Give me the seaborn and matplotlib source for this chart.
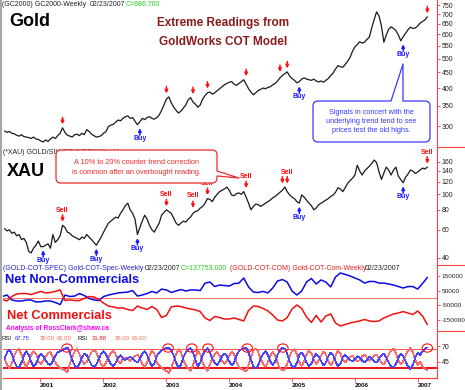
import pandas as pd
import matplotlib
matplotlib.use('Agg')
import matplotlib.pyplot as plt
import matplotlib.dates as mdates
import seaborn as sns
from matplotlib.patches import FancyBboxPatch, Ellipse, Polygon
from matplotlib.lines import Line2D
from matplotlib.ticker import FixedLocator, FixedFormatter, NullLocator

last_date = '2007-02-23'

gold = [289, 286, 288, 284, 283, 280, 278, 281, 277, 276,
        275, 273, 276, 272, 271, 268, 266, 270, 267, 272,
        276, 273, 279, 284, 296, 286, 280, 278, 276, 281,
        282, 279, 284, 281, 292, 288, 282, 279, 276, 277,
        279, 284, 288, 299, 302, 304, 309, 314, 312, 318,
        322, 324, 318, 320, 311, 303, 310, 318, 315, 320,
        322, 318, 316, 320, 326, 338, 352, 368, 374, 358,
        346, 338, 331, 336, 344, 352, 366, 372, 360, 354,
        346, 352, 368, 378, 386, 388, 382, 386, 392, 398,
        404, 410, 414, 418, 420, 412, 408, 414, 420, 426,
        412, 398, 388, 380, 386, 393, 396, 400, 398, 402,
        404, 410, 414, 422, 432, 440, 446, 452, 438, 430,
        424, 416, 420, 428, 432, 428, 426, 424, 428, 422,
        419, 422, 418, 424, 430, 440, 448, 462, 474, 470,
        468, 478, 490, 504, 528, 546, 556, 568, 562, 566,
        578, 588, 632, 672, 712, 690, 640, 566, 598, 624,
        636, 628, 618, 598, 572, 590, 606, 622, 634, 628,
        630, 640, 654, 662, 670, 686]

xau = [61, 59, 60, 57, 58, 55, 56, 52, 53, 50,
       44, 43, 46, 48, 51, 47, 47, 48, 49, 46,
       56, 50, 52, 55, 64, 62, 58, 57, 55, 54,
       53, 52, 54, 53, 56, 54, 52, 50, 48, 51,
       54, 58, 62, 66, 68, 70, 72, 71, 76, 80,
       85, 88, 80, 76, 70, 56, 62, 68, 74, 70,
       64, 60, 58, 62, 66, 74, 77, 80, 78, 76,
       71, 66, 64, 66, 68, 67, 70, 72, 76, 78,
       79, 82, 84, 88, 94, 93, 90, 96, 100, 104,
       106, 108, 111, 106, 99, 98, 101, 102, 100, 104,
       96, 88, 80, 84, 87, 86, 84, 86, 88, 90,
       92, 95, 97, 100, 103, 106, 111, 104, 99, 96,
       94, 90, 88, 99, 96, 92, 88, 85, 80, 82,
       86, 88, 90, 92, 94, 97, 99, 103, 110, 108,
       104, 110, 117, 122, 126, 132, 152, 140, 132, 140,
       145, 150, 156, 164, 158, 138, 124, 136, 148, 142,
       132, 142, 148, 130, 124, 118, 128, 134, 142, 140,
       135, 138, 142, 146, 144, 148]

non_comm = [10000, 20000, -13000, -20000, -20000, -14000, -13000, -27000, -25000, -20000,
            -20000, -30000, -44000, 20000, 10000, 13000, 30000, 17000, -3000, -13000,
            -17000, 10000, 20000, 27000, 34000, 37000, 40000, 50000, 13000, 20000,
            30000, 44000, 34000, 60000, 54000, 37000, 47000, 57000, 47000, 54000,
            54000, 50000, 100000, 107000, 77000, 87000, 84000, 80000, 97000, 100000,
            134000, 74000, 40000, 37000, 44000, 34000, 67000, 114000, 124000, 107000,
            47000, 20000, 47000, 107000, 131000, 94000, 121000, 107000, 74000, 141000,
            168000, 158000, 148000, 134000, 121000, 100000, 111000, 111000, 100000, 100000,
            94000, 87000, 77000, 67000, 77000, 77000, 60000, 97000, 137753]

comm = [-10000, -20000, 10000, 27000, 30000, 30000, 23000, 34000, 44000, 34000,
        37000, 44000, 54000, -17000, -13000, -17000, -17000, -3000, 10000, 7000,
        -10000, -34000, -54000, -60000, -67000, -67000, -77000, -84000, -54000, -67000,
        -77000, -57000, -77000, -131000, -117000, -60000, -54000, -57000, -67000, -74000,
        -80000, -91000, -134000, -151000, -124000, -131000, -141000, -141000, -134000, -144000,
        -154000, -84000, -54000, -57000, -70000, -87000, -114000, -148000, -154000, -131000,
        -74000, -47000, -70000, -128000, -164000, -117000, -161000, -121000, -107000, -168000,
        -188000, -178000, -168000, -161000, -154000, -144000, -154000, -158000, -154000, -134000,
        -121000, -107000, -101000, -91000, -101000, -111000, -87000, -121000, -178000]

rsi_non_comm = [50, 60, 64, 58, 46, 38, 36, 44, 55, 62, 56, 45, 38, 42,
                52, 58, 54, 48, 42, 40, 47, 55, 60, 62, 64, 66, 68, 60,
                48, 40, 36, 42, 52, 58, 56, 48, 40, 37, 41, 50, 58, 62,
                57, 49, 42, 38, 44, 52, 56, 50, 48, 51, 53, 50, 47, 44,
                50, 58, 62, 56, 46, 38, 42, 54, 60, 63, 66, 67, 68, 64,
                55, 44, 36, 40, 52, 60, 64, 67, 60, 48, 38, 44, 56, 63,
                67, 60, 50, 44, 40, 46, 54, 58, 54, 46, 40, 44, 55, 62,
                65, 67, 68, 60, 48, 38, 35, 40, 50, 58, 62, 56, 46, 40,
                46, 56, 64, 67, 66, 58, 46, 38, 36, 44, 56, 60, 54, 44,
                38, 42, 52, 58, 54, 46, 40, 44, 54, 60, 56, 46, 38, 42,
                52, 56, 52, 48, 46, 50, 54, 52, 47, 44, 48, 53, 50, 46,
                44, 50, 56, 58, 52, 44, 38, 36, 42, 52, 58, 54, 46, 38,
                34, 40, 52, 60, 56, 62, 66, 68]

rsi_comm = [50, 41, 35, 43, 55, 63, 65, 57, 45, 37, 45, 56, 62, 58,
            47, 41, 47, 53, 59, 61, 52, 44, 39, 36, 34, 32, 29, 41,
            53, 61, 65, 58, 47, 42, 45, 53, 61, 64, 60, 50, 41, 37,
            44, 52, 59, 63, 57, 47, 43, 50, 52, 49, 47, 51, 54, 57,
            51, 41, 37, 44, 55, 63, 59, 45, 39, 36, 33, 31, 28, 36,
            46, 57, 65, 61, 48, 40, 35, 31, 40, 52, 63, 57, 44, 36,
            31, 41, 51, 57, 61, 55, 46, 42, 47, 55, 61, 57, 45, 37,
            34, 32, 30, 40, 53, 63, 66, 61, 50, 42, 37, 45, 55, 61,
            55, 44, 35, 32, 33, 42, 54, 63, 65, 57, 44, 39, 46, 57,
            63, 59, 48, 42, 47, 55, 61, 57, 46, 40, 45, 55, 63, 59,
            48, 44, 49, 53, 55, 50, 46, 48, 54, 57, 52, 47, 51, 55,
            57, 50, 44, 41, 48, 57, 63, 66, 59, 48, 41, 46, 55, 63,
            67, 61, 48, 40, 45, 38, 34, 32]

gold_sell = ['2001-05-14', '2003-01-07', '2003-05-30', '2003-09-01', '2004-04-09',
             '2004-10-28', '2004-11-26', '2007-02-23']
gold_buy = ['2002-07-27', '2005-02-10', '2006-10-05']
xau_sell = ['2001-05-14', '2003-01-07', '2003-06-06', '2003-09-01', '2004-04-09',
            '2004-11-08', '2004-12-08', '2007-02-23']
xau_sell_labels = ['2001-05-14', '2003-01-07', '2003-06-06', '2003-09-01', '2004-04-09',
                   '2004-11-26', '2007-02-23']
xau_buy = ['2001-01-18', '2001-11-27', '2002-07-22', '2005-02-10', '2006-09-29']
rsi_flags = ['2001-06-06', '2003-01-13', '2003-05-30', '2003-09-01', '2004-04-15',
             '2004-11-08', '2007-02-23']

gold_ticks = [300, 350, 400, 450, 500, 550, 600, 650, 700, 750]
xau_ticks = [40, 60, 80, 100, 120, 140, 160]
cot_ticks = [150000, 50000, -50000, -150000]
rsi_ticks = [70, 45]
years = ['2001', '2002', '2003', '2004', '2005', '2006', '2007']

price_dates = pd.date_range(end=last_date, periods=len(gold), freq='14D')
xau_dates = pd.date_range(end=last_date, periods=len(xau), freq='14D')
cot_dates = pd.date_range(end=last_date, periods=len(non_comm), freq='28D')
rsi_dates = pd.date_range(end=last_date, periods=len(rsi_non_comm), freq='14D')

sns.set_style('white')
plt.rcParams['font.family'] = ['Liberation Sans', 'DejaVu Sans']

RED = '#ff1010'
AXRED = '#ff4040'
BLUE = '#1a1aff'
W, H = 465, 390
x_left, x_right = pd.Timestamp('2000-05-31'), pd.Timestamp('2007-04-20')

fig = plt.figure(figsize=(W / 100, H / 100), dpi=100)
fig.patch.set_facecolor('white')


def inch(x, y):
    return x / 100, (H - y) / 100


def ftext(x, y, s, **kw):
    kw.setdefault('fontsize', 5)
    kw.setdefault('va', 'center')
    fig.text(*inch(x, y), s, transform=fig.dpi_scale_trans, **kw)


def panel(top, bottom):
    ax = fig.add_axes([3 / W, 1 - bottom / H, 434 / W, (bottom - top) / H])
    ax.set_facecolor('none')
    return ax


def style(ax, ticks, labels, size=5):
    for side in ['left', 'top', 'bottom']:
        ax.spines[side].set_visible(False)
    ax.spines['right'].set_color(AXRED)
    ax.spines['right'].set_linewidth(0.8)
    ax.yaxis.tick_right()
    ax.yaxis.set_major_locator(FixedLocator(ticks))
    ax.yaxis.set_major_formatter(FixedFormatter(labels))
    ax.yaxis.set_minor_locator(NullLocator())
    ax.tick_params(axis='y', which='major', direction='out', length=2.2, width=0.6,
                   color=AXRED, labelcolor='#222222', labelsize=size, pad=1.2)
    ax.tick_params(axis='x', bottom=False, labelbottom=False)
    ax.set_xlim(x_left, x_right)
    ax.set_xlabel('')
    ax.set_ylabel('')


def arrow(ax, dates, values, when, kind):
    k = dates.get_indexer([pd.Timestamp(when)], method='nearest')[0]
    near = values[max(k - 1, 0):k + 2]
    if kind == 'sell':
        y, off, col = max(near), 1, RED
    else:
        y, off, col = min(near), -1, BLUE
    ax.annotate('', xy=(dates[k], y), xytext=(0, 7.5 * off), textcoords='offset points',
                arrowprops=dict(arrowstyle='-|>', color=col, lw=1.1, mutation_scale=4.5,
                                shrinkA=0, shrinkB=2.5))


def tag(ax, dates, values, when, kind):
    k = dates.get_indexer([pd.Timestamp(when)], method='nearest')[0]
    near = values[max(k - 2, 0):k + 3]
    if kind == 'sell':
        ax.annotate('Sell', xy=(dates[k], max(near)), xytext=(0, 8.3), textcoords='offset points',
                    ha='center', va='bottom', color=RED, fontsize=5, fontweight='bold')
    else:
        ax.annotate('Buy', xy=(dates[k], min(near)), xytext=(0, -7.6), textcoords='offset points',
                    ha='center', va='top', color=BLUE, fontsize=5, fontweight='bold')


# gold panel
ax_gold = panel(0, 147)
sns.lineplot(x=price_dates, y=gold, ax=ax_gold, color='#1a1a1a', linewidth=0.9)
ax_gold.set_yscale('log')
ax_gold.set_ylim(256, 779)
style(ax_gold, gold_ticks, [str(t) for t in gold_ticks])
for d in gold_sell:
    arrow(ax_gold, price_dates, gold, d, 'sell')
for d in gold_buy:
    arrow(ax_gold, price_dates, gold, d, 'buy')
    tag(ax_gold, price_dates, gold, d, 'buy')

# XAU panel
ax_xau = panel(147, 265)
sns.lineplot(x=xau_dates, y=xau, ax=ax_xau, color='#1a1a1a', linewidth=0.9)
ax_xau.set_yscale('log')
ax_xau.set_ylim(36.1, 197.8)
style(ax_xau, xau_ticks, [str(t) for t in xau_ticks])
for d in xau_sell:
    arrow(ax_xau, xau_dates, xau, d, 'sell')
for d in xau_sell_labels:
    tag(ax_xau, xau_dates, xau, d, 'sell')
for d in xau_buy:
    arrow(ax_xau, xau_dates, xau, d, 'buy')
    tag(ax_xau, xau_dates, xau, d, 'buy')

# COT panel
ax_cot = panel(265, 331)
ax_cot.axhline(0, color='#ff7070', lw=0.7)
sns.lineplot(x=cot_dates, y=non_comm, ax=ax_cot, color='#0a0ae6', linewidth=1.1)
sns.lineplot(x=cot_dates, y=comm, ax=ax_cot, color='#f01010', linewidth=1.1)
ax_cot.set_ylim(-221500, 221500)
style(ax_cot, cot_ticks, [str(t) for t in cot_ticks], size=4.6)

# RSI panel
ax_rsi = panel(331, 378)
ax_rsi.axhline(65, color='#ff5050', lw=0.7)
ax_rsi.axhline(35, color='#e81010', lw=1.4)
rsi_long = pd.DataFrame({'date': list(rsi_dates) * 2,
                         'rsi': rsi_comm + rsi_non_comm,
                         'side': ['comm'] * len(rsi_comm) + ['non_comm'] * len(rsi_non_comm)})
sns.lineplot(data=rsi_long, x='date', y='rsi', hue='side', ax=ax_rsi, legend=False,
             palette={'comm': '#ff6a6a', 'non_comm': '#4646ff'}, linewidth=0.5,
             antialiased=False)
ax_rsi.set_ylim(19.7, 93.9)
style(ax_rsi, rsi_ticks, [str(t) for t in rsi_ticks])
for d in rsi_flags:
    ax_rsi.add_patch(Ellipse((mdates.date2num(pd.Timestamp(d)), 67), width=60, height=13,
                             fill=False, edgecolor=RED, lw=0.8, clip_on=False, zorder=4))
ax_rsi.spines['bottom'].set_visible(True)
ax_rsi.spines['bottom'].set_color(AXRED)
ax_rsi.spines['bottom'].set_linewidth(0.9)
ax_rsi.set_xticks([pd.Timestamp(y + '-01-01') for y in years])
ax_rsi.set_xticklabels(years, ha='left', fontweight='bold', fontsize=4.6)
ax_rsi.tick_params(axis='x', bottom=True, labelbottom=True, direction='out', length=3,
                   width=0.6, color=AXRED, labelcolor='#111111', pad=0.5)

# frame pieces
for y in [147, 265, 331]:
    fig.add_artist(Line2D([4.37, 4.65], [(H - y) / 100] * 2, transform=fig.dpi_scale_trans,
                          color=AXRED, lw=0.8))
fig.add_artist(Line2D([0.012, 0.012], [0, 3.9], transform=fig.dpi_scale_trans,
                      color='#a8a8a8', lw=1.5))

# header lines and labels
ftext(2, 5, '(GC2000) GC2000-Weekly', color='#222222')
ftext(90, 5, '02/23/2007', color='#222222')
ftext(126, 5, 'C=686.700', color='#22cc22')
ftext(9, 21, 'Gold', fontsize=13, fontweight='bold', color='black')
ftext(223, 23, 'Extreme Readings from', fontsize=8.5, fontweight='bold', color='#8b1a1a', ha='center')
ftext(223, 42, 'GoldWorks COT Model', fontsize=8.5, fontweight='bold', color='#8b1a1a', ha='center')

ftext(3, 153, '(*XAU) GOLD/SILVER INDEX-Weekly', color='#222222')
ftext(7, 172, 'XAU', fontsize=13, fontweight='bold', color='black')

ftext(3, 268, '(GOLD-COT-SPEC) Gold-COT-Spec-Weekly', color='#2222cc')
ftext(145, 268, '02/23/2007', color='#222222')
ftext(181, 268, 'C=137753.000', color='#22cc22')
ftext(230, 268, '(GOLD-COT-COM) Gold-COT-Com-Weekly', color='#e02020')
ftext(365, 268, '02/23/2007', color='#222222')
ftext(5, 280, 'Net Non-Commercials', fontsize=9.3, fontweight='bold', color='#0a0ae6')
ftext(7, 316, 'Net Commercials', fontsize=9.3, fontweight='bold', color='#f01010')
ftext(6, 328, 'Analysis of RossClark@shaw.ca', fontsize=4.8, fontweight='bold', color='#ff00ff')

rsi_head = [(1, 'RSI', '#111111'), (15, '67.75', '#2a2aff'), (40, '35.00', '#ff6a50'),
            (57, '65.00', '#ff6a50'), (77, 'RSI', '#111111'), (92, '31.88', '#e82020'),
            (115, '35.00', '#ff6a50'), (132, '65.00', '#ff6a50')]
for x, s, c in rsi_head:
    ftext(x, 338, s, color=c, fontsize=4.3)


def callout(x0, y0, x1, y1, color, lines, line_ys, cx, pointer, inward):
    fig.add_artist(FancyBboxPatch(inch(x0, y1), (x1 - x0) / 100, (y1 - y0) / 100,
                                  boxstyle='round,pad=0,rounding_size=0.05',
                                  transform=fig.dpi_scale_trans, facecolor='white',
                                  edgecolor=color, lw=0.9, zorder=5))
    (bx0, by0), (px, py), (bx1, by1) = pointer
    dx, dy = inward
    poly = [inch(bx0 + dx, by0 + dy), inch(bx0, by0), inch(px, py), inch(bx1, by1),
            inch(bx1 + dx, by1 + dy)]
    fig.add_artist(Polygon(poly, closed=True, transform=fig.dpi_scale_trans,
                           facecolor='white', edgecolor='none', zorder=6))
    xs, ys = zip(inch(bx0, by0), inch(px, py), inch(bx1, by1))
    fig.add_artist(Line2D(xs, ys, transform=fig.dpi_scale_trans, color=color, lw=0.9, zorder=7))
    for s, y in zip(lines, line_ys):
        fig.text(*inch(cx, y), s, transform=fig.dpi_scale_trans, ha='center', va='center',
                 fontsize=5.3, color=color, zorder=8)


callout(313, 101, 430, 142, '#3a3aff',
        ['Signals in concert with the', 'underlying trend tend to see', 'prices test the old highs.'],
        [112, 121.5, 131], 371.5, [(391, 101), (403, 64), (403, 101)], (0, 2.5))
callout(56, 150, 217, 183, '#ee2a2a',
        ['A 10% to 20% counter trend correction', 'is common after an overbought reading.'],
        [162, 173], 136.5, [(217, 171), (239, 178), (217, 176)], (-2.5, 0))

fig.savefig('out.png', dpi=100, facecolor='white')
